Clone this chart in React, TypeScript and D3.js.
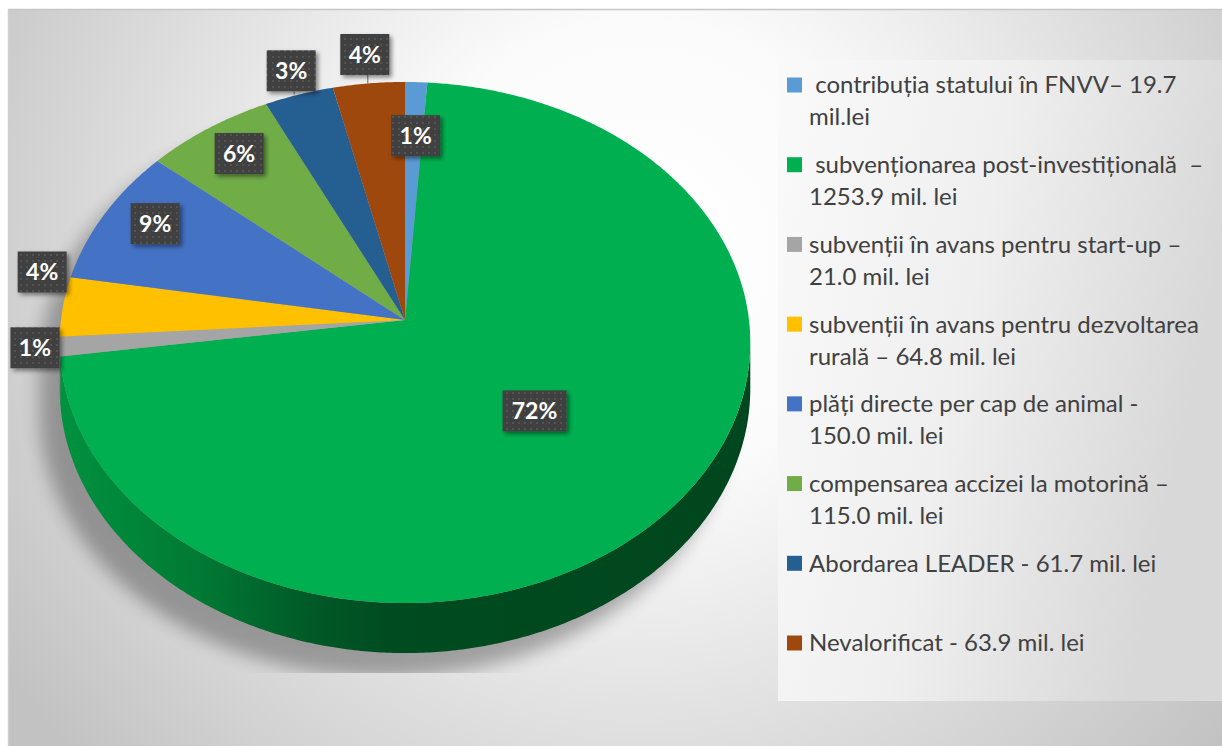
import React from 'react';
import * as d3 from 'd3';

const categories = [
  'contribuția statului în FNVV',
  'subvenționarea post-investițională',
  'subvenții în avans pentru start-up',
  'subvenții în avans pentru dezvoltarea rurală',
  'plăți directe per cap de animal',
  'compensarea accizei la motorină',
  'Abordarea LEADER',
  'Nevalorificat',
];
const values = [19.7, 1253.9, 21.0, 64.8, 150.0, 115.0, 61.7, 63.9];
const percentLabels = ['1%', '72%', '1%', '4%', '9%', '6%', '3%', '4%'];
const colors = ['#5B9BD5', '#00B050', '#A5A5A5', '#FFC000', '#4472C4', '#70AD47', '#255E91', '#9E480E'];
const legendLines = [
  [' contribuția statului în FNVV– 19.7', 'mil.lei'],
  [' subvenționarea post-investițională  –', '1253.9 mil. lei'],
  ['subvenții în avans pentru start-up –', '21.0 mil. lei'],
  ['subvenții în avans pentru dezvoltarea', 'rurală – 64.8 mil. lei'],
  ['plăți directe per cap de animal -', '150.0 mil. lei'],
  ['compensarea accizei la motorină –', '115.0 mil. lei'],
  ['Abordarea LEADER - 61.7 mil. lei'],
  ['Nevalorificat - 63.9 mil. lei'],
];

// label placement (layout, not data)
const labelLayout = [
  { r: 0.76, dx: 2, dy: 0 },
  { r: 0.5, dx: 0, dy: 0 },
  { r: 1.12, dx: 17, dy: -2 },
  { r: 1.12, dx: 20, dy: -33 },
  { r: 0.85, dx: 7, dy: -6 },
  { r: 0.85, dx: 3, dy: -2 },
  { r: 1.12, dx: 4, dy: 1, leader: true },
  { r: 1.12, dx: 0, dy: -3, leader: true },
];

const W = 1222, H = 746;
const CX = 405, CY = 320, RX = 344, RY = 258.6, K = 0.0864, DEPTH = 45.7;

function proj(a: number, r = 1, drop = 0): [number, number] {
  const u = r * Math.sin(a);
  const v = -r * Math.cos(a);
  const s = 1 / (1 - K * v);
  return [CX + RX * u * s, CY + (RY * v + drop) * s];
}
function rim(a0: number, a1: number, r = 1, drop = 0): [number, number][] {
  const n = Math.max(2, Math.ceil((a1 - a0) / (Math.PI / 360)));
  return d3.range(n + 1).map((i) => proj(a0 + ((a1 - a0) * i) / n, r, drop));
}
const line = d3.line<[number, number]>();

export default function App() {
  const pie = d3.pie<number>().sort(null).startAngle(0).endAngle(2 * Math.PI)(values);
  const VA0 = Math.PI / 2 + Math.asin(K);
  const VA1 = (3 * Math.PI) / 2 - Math.asin(K);

  const sides = pie
    .map((p, i) => {
      const b0 = Math.max(p.startAngle, VA0);
      const b1 = Math.min(p.endAngle, VA1);
      if (b1 <= b0) return null;
      const top = rim(b0, b1, 1, 0);
      const bot = rim(b0, b1, 1, DEPTH).reverse();
      return { i, d: line([...top, ...bot])! + 'Z' };
    })
    .filter(Boolean) as { i: number; d: string }[];

  const silhouette =
    line(rim(0, 2 * Math.PI))! + 'Z' + line([...rim(VA0, VA1), ...rim(VA0, VA1, 1, DEPTH).reverse()])! + 'Z';

  const legendY = d3.scaleLinear().domain([0, 7]).range([85, 643]);
  const greenSide = 'url(#greenSide)';

  return (
    <svg width={W} height={H} style={{ position: 'absolute', left: 0, top: 0 }}>
      <defs>
        <radialGradient id="bg" gradientUnits="userSpaceOnUse" cx={640} cy={250} r={760}>
          <stop offset="0" stopColor="#ffffff" />
          <stop offset="0.3" stopColor="#fbfbfb" />
          <stop offset="1" stopColor="#c2c2c2" />
        </radialGradient>
        <linearGradient id="legendBg" x1="0" x2="1" y1="0" y2="0.3">
          <stop offset="0" stopColor="#fafafa" />
          <stop offset="0.5" stopColor="#efefef" />
          <stop offset="1" stopColor="#d8d8d8" />
        </linearGradient>
        <linearGradient id="greenSide" gradientUnits="userSpaceOnUse" x1={60} x2={750} y1={0} y2={0}>
          <stop offset="0" stopColor="#00923f" />
          <stop offset="0.2" stopColor="#007a34" />
          <stop offset="0.36" stopColor="#005a27" />
          <stop offset="0.48" stopColor="#004b20" />
          <stop offset="1" stopColor="#00461e" />
        </linearGradient>
        <filter id="blur" x="-20%" y="-20%" width="140%" height="140%">
          <feGaussianBlur stdDeviation="9" />
        </filter>
        <filter id="boxShadow" x="-30%" y="-30%" width="160%" height="160%">
          <feDropShadow dx="2.5" dy="2.5" stdDeviation="2" floodColor="#000" floodOpacity="0.45" />
        </filter>
        <pattern id="dots" width="6" height="6" patternUnits="userSpaceOnUse">
          <rect width="6" height="6" fill="#404040" />
          <circle cx="3" cy="3" r="0.9" fill="#5c5c5c" />
        </pattern>
        <clipPath id="plotClip">
          <rect x={9} y={10} width={769} height={663} />
        </clipPath>
      </defs>

      <rect x={8} y={9} width={W - 8} height={H - 9} fill="url(#bg)" />
      <line x1={8} x2={W} y1={9.5} y2={9.5} stroke="#c6c6c6" strokeWidth={1.5} />
      <line x1={8.5} x2={8.5} y1={9} y2={H} stroke="#cfcfcf" strokeWidth={1.5} />

      <rect x={778} y={60} width={W - 778} height={641} fill="url(#legendBg)" />

      {/* pie shadow */}
      <g clipPath="url(#plotClip)">
        <g transform="translate(-20,24)" filter="url(#blur)" opacity={0.3}>
          <path d={silhouette} fill="#000" />
        </g>
      </g>

      {/* sides */}
      {sides.map((s) => (
        <path
          key={'s' + s.i}
          d={s.d}
          fill={s.i === 1 ? greenSide : d3.color(colors[s.i])!.darker(1.3).formatHex()}
        />
      ))}

      {/* top faces */}
      {pie.map((p, i) => (
        <path
          key={'t' + i}
          d={line([[CX, CY], ...rim(p.startAngle, p.endAngle)])! + 'Z'}
          fill={colors[i]}
        />
      ))}

      {/* labels */}
      {pie.map((p, i) => {
        const m = (p.startAngle + p.endAngle) / 2;
        const L = labelLayout[i];
        const [px, py] = proj(m, L.r);
        const x = px + L.dx, y = py + L.dy;
        const txt = percentLabels[i];
        const w = 15 * txt.length + 19, h = 41;
        const [, ry] = proj(m, 1);
        return (
          <g key={'l' + i}>
            {L.leader && (
              <line x1={x + 3} x2={x + 3} y1={y + h / 2} y2={ry} stroke="#7f7f7f" strokeWidth={1.2} />
            )}
            <rect x={x - w / 2} y={y - h / 2} width={w} height={h} fill="url(#dots)" filter="url(#boxShadow)" />
            <text
              x={x}
              y={y}
              dy="0.36em"
              textAnchor="middle"
              fill="#ffffff"
              fontFamily="Lato, 'Open Sans', sans-serif"
              fontWeight={700}
              fontSize={23}
            >
              {txt}
            </text>
          </g>
        );
      })}

      {/* legend */}
      {categories.map((c, i) => {
        const y0 = legendY(i);
        return (
          <g key={'g' + i}>
            <rect x={787} y={y0 - 7.5} width={15} height={15} fill={colors[i]} />
            {legendLines[i].map((ln, j) => (
              <text
                key={j}
                x={809}
                y={y0 + j * 32}
                dy="0.35em"
                fill="#404040"
                fontFamily="Lato, 'Open Sans', sans-serif"
                fontSize={24}
                style={{ whiteSpace: 'pre' }}
              >
                {ln}
              </text>
            ))}
          </g>
        );
      })}
    </svg>
  );
}
